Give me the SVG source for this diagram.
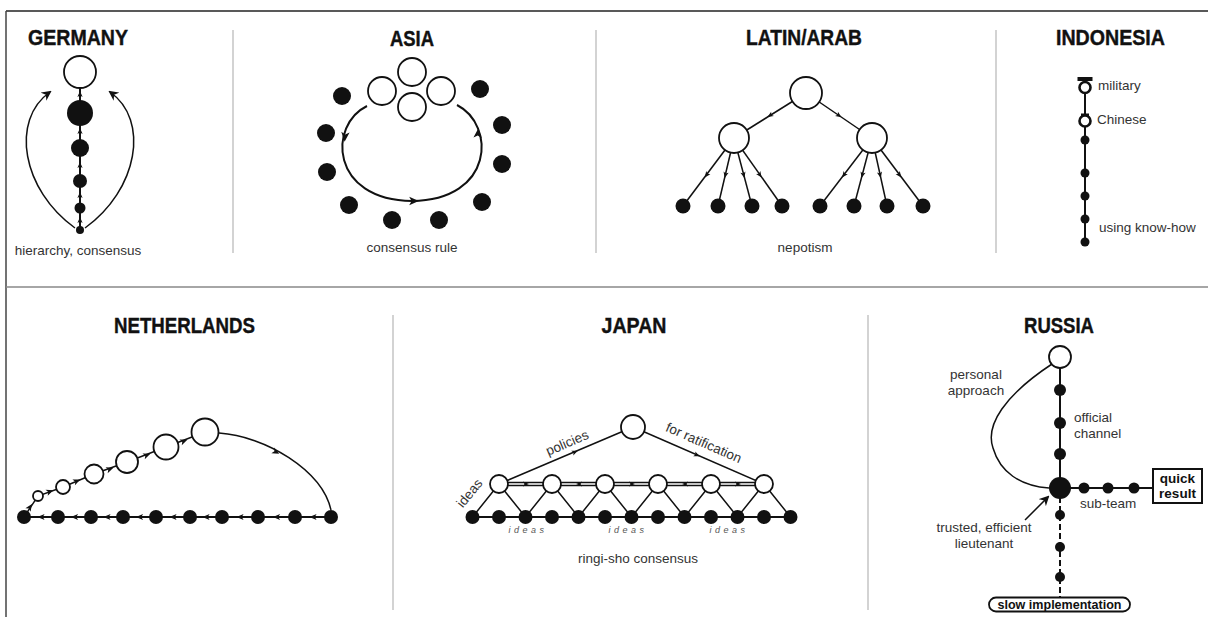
<svg xmlns="http://www.w3.org/2000/svg" xmlns:xlink="http://www.w3.org/1999/xlink" width="1208" height="617" viewBox="0 0 1208 617">
  <style>
    .title { font-family: "Liberation Sans", "DejaVu Sans", sans-serif; font-weight: bold; font-size: 22px; fill: #111; stroke: #111; stroke-width: 0.4; text-anchor: middle; }
    .lbl { font-family: "Liberation Sans", "DejaVu Sans", sans-serif; font-size: 13.5px; fill: #333; }
    .mid { text-anchor: middle; }
    .bold { font-weight: bold; fill: #111; }
    .ital { font-family: "Liberation Sans", sans-serif; font-style: italic; font-size: 9px; letter-spacing: 3.5px; fill: #555; text-anchor: middle; }
    .ln { stroke: #111; stroke-width: 2; fill: none; }
    .thin { stroke: #111; stroke-width: 1.5; fill: none; }
    .open { fill: #fff; stroke: #111; stroke-width: 1.8; }
    .dot { fill: #111; }
    .sep { stroke: #c4c4c4; stroke-width: 1.5; }
    .tip { fill: #111; }
  </style>
  <defs>
    <marker id="arr" viewBox="0 0 10 10" refX="8" refY="5" markerWidth="10" markerHeight="10" markerUnits="userSpaceOnUse" orient="auto">
      <path d="M0,0 L10,5 L0,10 L3,5 z" fill="#111"/>
    </marker>
    <path id="tip" d="M3,0 L-3,-2.6 L-1.5,0 L-3,2.6 z"/>
  </defs>

  <!-- frame and panel separators -->
  <g id="frame">
    <line x1="6" y1="11" x2="1208" y2="11" stroke="#222" stroke-width="1.5"/>
    <line x1="6" y1="11" x2="6" y2="617" stroke="#444" stroke-width="1.5"/>
    <line x1="6" y1="287" x2="1208" y2="287" stroke="#888" stroke-width="1.5"/>
    <line class="sep" x1="233" y1="30" x2="233" y2="253"/>
    <line class="sep" x1="596" y1="30" x2="596" y2="253"/>
    <line class="sep" x1="996" y1="30" x2="996" y2="253"/>
    <line class="sep" x1="393" y1="315" x2="393" y2="610"/>
    <line class="sep" x1="868" y1="315" x2="868" y2="610"/>
  </g>

  <!-- GERMANY -->
  <g id="germany">
    <text class="title" x="78" y="45" textLength="100" lengthAdjust="spacingAndGlyphs">GERMANY</text>
    <g id="germany-connectors">
      <line class="ln" x1="80" y1="88" x2="80" y2="230"/>
      <path class="thin" d="M75,228 C22,190 10,120 50,92" marker-end="url(#arr)"/>
      <path class="thin" d="M85,228 C138,190 150,120 110,92" marker-end="url(#arr)"/>
      <g class="tip">
        <use xlink:href="#tip" transform="translate(80,94) rotate(-90)"/>
        <use xlink:href="#tip" transform="translate(80,131) rotate(-90)"/>
        <use xlink:href="#tip" transform="translate(80,165) rotate(-90)"/>
        <use xlink:href="#tip" transform="translate(80,195) rotate(-90)"/>
        <use xlink:href="#tip" transform="translate(80,220) rotate(-90)"/>
      </g>
    </g>
    <g id="germany-nodes">
      <circle id="de-top" class="open" cx="80" cy="72" r="16"/>
      <circle id="de-1" class="dot" cx="80" cy="113" r="13"/>
      <circle id="de-2" class="dot" cx="80" cy="148" r="9"/>
      <circle id="de-3" class="dot" cx="80" cy="181" r="7"/>
      <circle id="de-4" class="dot" cx="80" cy="208" r="5.5"/>
      <circle id="de-5" class="dot" cx="80" cy="230" r="4"/>
    </g>
    <text class="lbl mid" x="78" y="255">hierarchy, consensus</text>
  </g>

  <!-- ASIA -->
  <g id="asia">
    <text class="title" x="412" y="46" textLength="44" lengthAdjust="spacingAndGlyphs">ASIA</text>
    <g id="asia-connectors">
      <path class="ln" d="M367,106 C328,125 330,200 412,201 C494,200 496,125 457,105"/>
      <g class="tip">
        <use xlink:href="#tip" transform="translate(345,137) rotate(95) scale(1.6)"/>
        <use xlink:href="#tip" transform="translate(414,201) scale(1.6)"/>
        <use xlink:href="#tip" transform="translate(478,133) rotate(-85) scale(1.6)"/>
      </g>
    </g>
    <g id="asia-nodes">
      <circle id="as-o1" class="open" cx="412" cy="72" r="14"/>
      <circle id="as-o2" class="open" cx="382" cy="91" r="14"/>
      <circle id="as-o3" class="open" cx="441" cy="91" r="14"/>
      <circle id="as-o4" class="open" cx="412" cy="107" r="14"/>
      <circle class="dot" cx="342" cy="96" r="9"/>
      <circle class="dot" cx="326" cy="133" r="9"/>
      <circle class="dot" cx="327" cy="172" r="9"/>
      <circle class="dot" cx="349" cy="205" r="9"/>
      <circle class="dot" cx="392" cy="220" r="9"/>
      <circle class="dot" cx="439" cy="220" r="9"/>
      <circle class="dot" cx="482" cy="202" r="9"/>
      <circle class="dot" cx="502" cy="164" r="9"/>
      <circle class="dot" cx="502" cy="125" r="9"/>
      <circle class="dot" cx="480" cy="89" r="9"/>
    </g>
    <text class="lbl mid" x="412" y="252">consensus rule</text>
  </g>

  <!-- LATIN/ARAB -->
  <g id="latin-arab">
    <text class="title" x="804" y="45" textLength="116" lengthAdjust="spacingAndGlyphs">LATIN/ARAB</text>
    <g id="latin-connectors">
      <line class="thin" x1="806" y1="93" x2="734" y2="138"/>
      <line class="thin" x1="806" y1="93" x2="872" y2="138"/>
      <line class="thin" x1="734" y1="138" x2="683" y2="206"/>
      <line class="thin" x1="734" y1="138" x2="718" y2="206"/>
      <line class="thin" x1="734" y1="138" x2="752" y2="206"/>
      <line class="thin" x1="734" y1="138" x2="782" y2="206"/>
      <line class="thin" x1="872" y1="138" x2="820" y2="206"/>
      <line class="thin" x1="872" y1="138" x2="854" y2="206"/>
      <line class="thin" x1="872" y1="138" x2="887" y2="206"/>
      <line class="thin" x1="872" y1="138" x2="923" y2="206"/>
      <g class="tip">
        <use xlink:href="#tip" transform="translate(770,115.5) rotate(148)"/>
        <use xlink:href="#tip" transform="translate(839,115.5) rotate(34)"/>
        <use xlink:href="#tip" transform="translate(706.5,175) rotate(127)"/>
        <use xlink:href="#tip" transform="translate(725.4,175) rotate(103)"/>
        <use xlink:href="#tip" transform="translate(743.7,175) rotate(75)"/>
        <use xlink:href="#tip" transform="translate(759.9,175) rotate(55)"/>
        <use xlink:href="#tip" transform="translate(843.9,175) rotate(127)"/>
        <use xlink:href="#tip" transform="translate(862.3,175) rotate(105)"/>
        <use xlink:href="#tip" transform="translate(880.1,175) rotate(78)"/>
        <use xlink:href="#tip" transform="translate(899.5,175) rotate(53)"/>
      </g>
    </g>
    <g id="latin-nodes">
      <circle id="la-top" class="open" cx="806" cy="93" r="16"/>
      <circle id="la-left" class="open" cx="734" cy="138" r="15"/>
      <circle id="la-right" class="open" cx="872" cy="138" r="15"/>
      <circle class="dot" cx="683" cy="206" r="7.5"/>
      <circle class="dot" cx="718" cy="206" r="7.5"/>
      <circle class="dot" cx="752" cy="206" r="7.5"/>
      <circle class="dot" cx="782" cy="206" r="7.5"/>
      <circle class="dot" cx="820" cy="206" r="7.5"/>
      <circle class="dot" cx="854" cy="206" r="7.5"/>
      <circle class="dot" cx="887" cy="206" r="7.5"/>
      <circle class="dot" cx="923" cy="206" r="7.5"/>
    </g>
    <text class="lbl mid" x="805" y="252">nepotism</text>
  </g>

  <!-- INDONESIA -->
  <g id="indonesia">
    <text class="title" x="1110.5" y="45" textLength="109" lengthAdjust="spacingAndGlyphs">INDONESIA</text>
    <g id="indonesia-connectors">
      <line class="ln" x1="1085" y1="80" x2="1085" y2="242"/>
    </g>
    <g id="indonesia-nodes">
      <g id="id-military">
        <rect x="1077.5" y="77" width="15" height="4" fill="#111"/>
        <circle cx="1085" cy="87.5" r="5.5" fill="#fff" stroke="#111" stroke-width="2.6"/>
      </g>
      <g id="id-chinese">
        <circle cx="1085" cy="121" r="5.5" fill="#fff" stroke="#111" stroke-width="2.6"/>
        <rect x="1081" y="113.5" width="8" height="2.5" fill="#111"/>
      </g>
      <circle class="dot" cx="1085" cy="140" r="4.5"/>
      <circle class="dot" cx="1085" cy="173" r="4.5"/>
      <circle class="dot" cx="1085" cy="196" r="4.5"/>
      <circle class="dot" cx="1085" cy="219" r="4.5"/>
      <circle class="dot" cx="1085" cy="242" r="4.5"/>
    </g>
    <text class="lbl" x="1098" y="90">military</text>
    <text class="lbl" x="1097" y="124">Chinese</text>
    <text class="lbl" x="1099" y="232">using know-how</text>
  </g>

  <!-- NETHERLANDS -->
  <g id="netherlands">
    <text class="title" x="184.5" y="333" textLength="141" lengthAdjust="spacingAndGlyphs">NETHERLANDS</text>
    <g id="netherlands-connectors">
      <line class="ln" x1="24" y1="517" x2="331" y2="517"/>
      <polyline class="thin" points="24,517 38,496 63,487 94,474 127,462 166,447 205,432"/>
      <path class="thin" d="M219,433 C265,436 322,470 331,510"/>
      <g class="tip">
        <use xlink:href="#tip" transform="translate(41,517) rotate(180) scale(1.2)"/>
        <use xlink:href="#tip" transform="translate(74.5,517) rotate(180) scale(1.2)"/>
        <use xlink:href="#tip" transform="translate(107,517) rotate(180) scale(1.2)"/>
        <use xlink:href="#tip" transform="translate(139.5,517) rotate(180) scale(1.2)"/>
        <use xlink:href="#tip" transform="translate(173,517) rotate(180) scale(1.2)"/>
        <use xlink:href="#tip" transform="translate(206,517) rotate(180) scale(1.2)"/>
        <use xlink:href="#tip" transform="translate(240,517) rotate(180) scale(1.2)"/>
        <use xlink:href="#tip" transform="translate(276.5,517) rotate(180) scale(1.2)"/>
        <use xlink:href="#tip" transform="translate(313,517) rotate(180) scale(1.2)"/>
        <use xlink:href="#tip" transform="translate(30,507) rotate(-56) scale(1.2)"/>
        <use xlink:href="#tip" transform="translate(50,491.5) rotate(-20) scale(1.2)"/>
        <use xlink:href="#tip" transform="translate(77,481) rotate(-23) scale(1.2)"/>
        <use xlink:href="#tip" transform="translate(110,469) rotate(-20) scale(1.2)"/>
        <use xlink:href="#tip" transform="translate(147,455) rotate(-21) scale(1.2)"/>
        <use xlink:href="#tip" transform="translate(184,441) rotate(-21) scale(1.2)"/>
        <use xlink:href="#tip" transform="translate(276,452) rotate(27) scale(1.2)"/>
      </g>
    </g>
    <g id="netherlands-nodes">
      <circle class="open" cx="38" cy="496" r="5"/>
      <circle class="open" cx="63" cy="487" r="7"/>
      <circle class="open" cx="94" cy="474" r="9.5"/>
      <circle class="open" cx="127" cy="462" r="11"/>
      <circle class="open" cx="166" cy="447" r="12.5"/>
      <circle class="open" cx="205" cy="432" r="13.5"/>
      <circle class="dot" cx="24" cy="517" r="7"/>
      <circle class="dot" cx="58" cy="517" r="7"/>
      <circle class="dot" cx="91" cy="517" r="7"/>
      <circle class="dot" cx="123" cy="517" r="7"/>
      <circle class="dot" cx="156" cy="517" r="7"/>
      <circle class="dot" cx="190" cy="517" r="7"/>
      <circle class="dot" cx="222" cy="517" r="7"/>
      <circle class="dot" cx="258" cy="517" r="7"/>
      <circle class="dot" cx="295" cy="517" r="7"/>
      <circle class="dot" cx="331" cy="517" r="7"/>
    </g>
  </g>

  <!-- JAPAN -->
  <g id="japan">
    <text class="title" x="634" y="333" textLength="65" lengthAdjust="spacingAndGlyphs">JAPAN</text>
    <g id="japan-connectors">
      <line class="thin" x1="633" y1="427" x2="499" y2="484"/>
      <line class="thin" x1="633" y1="427" x2="764" y2="484"/>
      <line class="thin" x1="499" y1="482.6" x2="764" y2="482.6" stroke-width="1.2"/>
      <line class="thin" x1="499" y1="485.6" x2="764" y2="485.6" stroke-width="1.2"/>
      <line class="ln" x1="472.5" y1="517" x2="790.5" y2="517"/>
      <path class="thin" d="M472.5,517 L499,484 L525.5,517 L552,484 L578.5,517 L605,484 L631.5,517 L658,484 L684.5,517 L711,484 L737.5,517 L764,484 L790.5,517"/>
      <g class="tip">
        <use xlink:href="#tip" transform="translate(575,452) rotate(-23)"/>
        <use xlink:href="#tip" transform="translate(697,455) rotate(23)"/>
        <use xlink:href="#tip" transform="translate(526,484)"/>
        <use xlink:href="#tip" transform="translate(579,484) rotate(180)"/>
        <use xlink:href="#tip" transform="translate(632,484)"/>
        <use xlink:href="#tip" transform="translate(685,484) rotate(180)"/>
        <use xlink:href="#tip" transform="translate(738,484)"/>
      </g>
    </g>
    <g id="japan-nodes">
      <circle id="jp-top" class="open" cx="633" cy="427" r="12"/>
      <circle class="open" cx="499" cy="484" r="9"/>
      <circle class="open" cx="552" cy="484" r="9"/>
      <circle class="open" cx="605" cy="484" r="9"/>
      <circle class="open" cx="658" cy="484" r="9"/>
      <circle class="open" cx="711" cy="484" r="9"/>
      <circle class="open" cx="764" cy="484" r="9"/>
      <circle class="dot" cx="472.5" cy="517" r="7"/>
      <circle class="dot" cx="499" cy="517" r="7"/>
      <circle class="dot" cx="525.5" cy="517" r="7"/>
      <circle class="dot" cx="552" cy="517" r="7"/>
      <circle class="dot" cx="578.5" cy="517" r="7"/>
      <circle class="dot" cx="605" cy="517" r="7"/>
      <circle class="dot" cx="631.5" cy="517" r="7"/>
      <circle class="dot" cx="658" cy="517" r="7"/>
      <circle class="dot" cx="684.5" cy="517" r="7"/>
      <circle class="dot" cx="711" cy="517" r="7"/>
      <circle class="dot" cx="737.5" cy="517" r="7"/>
      <circle class="dot" cx="764" cy="517" r="7"/>
      <circle class="dot" cx="790.5" cy="517" r="7"/>
    </g>
    <text class="lbl mid" x="569" y="447" transform="rotate(-23.2 569 447)">policies</text>
    <text class="lbl mid" x="702" y="447" transform="rotate(23.5 702 447)">for ratification</text>
    <text class="lbl mid" x="473" y="496" transform="rotate(-51 473 496)">ideas</text>
    <text class="ital" x="528" y="533">ideas</text>
    <text class="ital" x="628" y="533">ideas</text>
    <text class="ital" x="729" y="533">ideas</text>
    <text class="lbl mid" x="638" y="563">ringi-sho consensus</text>
  </g>

  <!-- RUSSIA -->
  <g id="russia">
    <text class="title" x="1059" y="333" textLength="70" lengthAdjust="spacingAndGlyphs">RUSSIA</text>
    <g id="russia-connectors">
      <line class="ln" x1="1060" y1="368" x2="1060" y2="488"/>
      <line class="ln" x1="1060" y1="488" x2="1060" y2="598" stroke-dasharray="6 3"/>
      <line class="ln" x1="1060" y1="488" x2="1153" y2="488"/>
      <path class="thin" d="M1052,364 C1005,395 985,425 993,448 C1000,472 1020,486 1049,488"/>
      <line class="thin" x1="1025" y1="520" x2="1048" y2="497" marker-end="url(#arr)"/>
    </g>
    <g id="russia-nodes">
      <circle id="ru-top" class="open" cx="1060" cy="357" r="11"/>
      <circle class="dot" cx="1060" cy="390" r="6"/>
      <circle class="dot" cx="1060" cy="423" r="6"/>
      <circle class="dot" cx="1060" cy="454" r="6"/>
      <circle id="ru-lieutenant" class="dot" cx="1060" cy="488" r="11"/>
      <circle class="dot" cx="1084" cy="488" r="5.5"/>
      <circle class="dot" cx="1108" cy="488" r="5.5"/>
      <circle class="dot" cx="1134" cy="488" r="5.5"/>
      <circle class="dot" cx="1060" cy="515" r="5"/>
      <circle class="dot" cx="1060" cy="547" r="5"/>
      <circle class="dot" cx="1060" cy="577" r="5"/>
      <g id="ru-quick">
        <rect x="1153" y="469" width="49" height="34" fill="#fff" stroke="#111" stroke-width="2"/>
        <text class="lbl mid bold" x="1177.5" y="483">quick</text>
        <text class="lbl mid bold" x="1177.5" y="498">result</text>
      </g>
      <g id="ru-slow">
        <rect x="989" y="597.5" width="141" height="14" rx="7" fill="#fff" stroke="#111" stroke-width="1.8"/>
        <text class="lbl mid bold" x="1059.5" y="609" style="font-size:12.5px" textLength="124" lengthAdjust="spacingAndGlyphs">slow implementation</text>
      </g>
    </g>
    <text class="lbl mid" x="976" y="379">personal</text>
    <text class="lbl mid" x="976" y="395">approach</text>
    <text class="lbl" x="1074" y="422">official</text>
    <text class="lbl" x="1074" y="438">channel</text>
    <text class="lbl" x="1080" y="508">sub-team</text>
    <text class="lbl mid" x="984" y="532">trusted, efficient</text>
    <text class="lbl mid" x="984" y="548">lieutenant</text>
  </g>
</svg>
